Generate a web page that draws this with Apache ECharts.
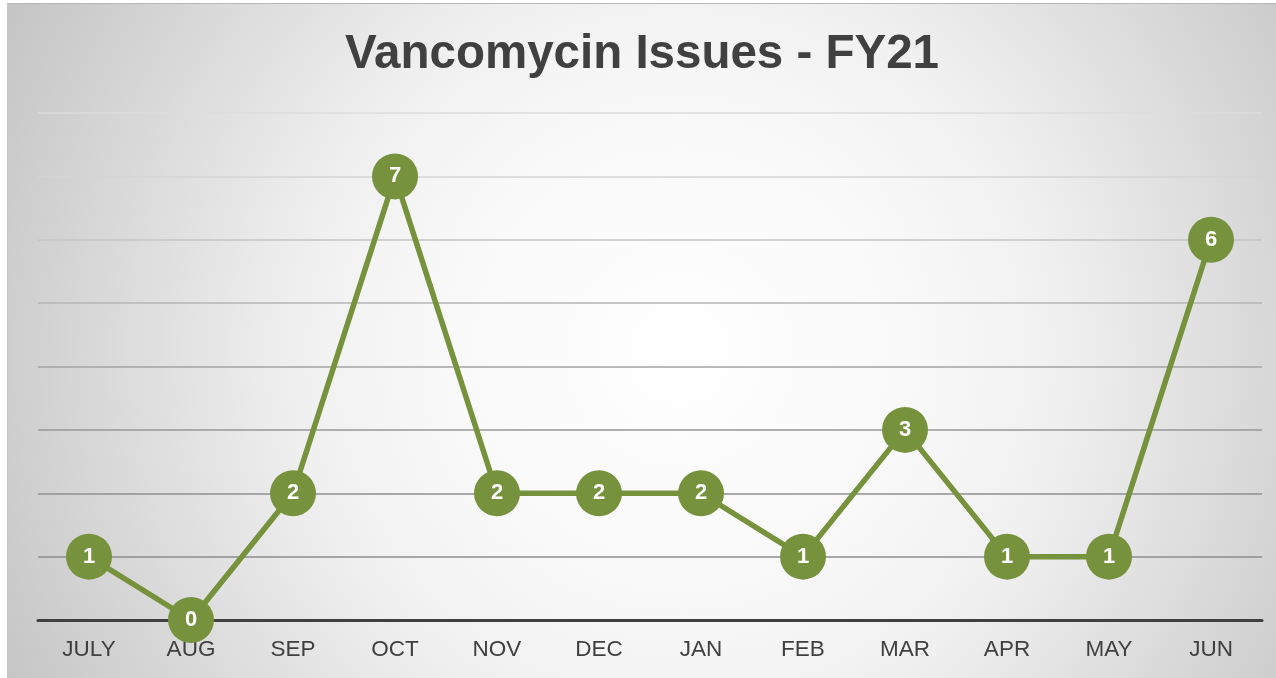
<!DOCTYPE html>
<html><head><meta charset="utf-8">
<script src="https://cdn.jsdelivr.net/npm/echarts@6/dist/echarts.min.js"></script>
<style>
html,body{margin:0;padding:0;background:#fff;width:1276px;height:678px;overflow:hidden;}
#c{position:absolute;left:7px;top:3px;width:1269px;height:675px;border-top:1px solid #b8b8b8;border-left:1px solid #c4c4c4;box-sizing:border-box;
  background:radial-gradient(circle 760px at 53% 52%, #ffffff 0px, #f8f8f8 250px, #f0f0f0 380px, #d2d2d2 640px, #c4c4c4 760px);}
</style></head>
<body><div id="c"></div>
<script>
const titleText = "Vancomycin Issues - FY21";
const months = ["JULY","AUG","SEP","OCT","NOV","DEC","JAN","FEB","MAR","APR","MAY","JUN"];
const issues = [1,0,2,7,2,2,2,1,3,1,1,6];
const yMin = 0, yMax = 8, yStep = 1;

const chart = echarts.init(document.getElementById('c'));
chart.setOption({
  backgroundColor:'transparent',
  animation:false,
  title:{
    text:titleText, left:'center', top:22,
    textStyle:{fontFamily:'Liberation Sans, Arial, sans-serif', fontWeight:'bold', fontSize:47.5, color:'#404040'}
  },
  grid:{left:30, right:14, top:109, bottom:58},
  xAxis:{
    type:'category', data:months, boundaryGap:true,
    axisLine:{lineStyle:{color:'#404040', width:3}},
    axisTick:{show:false},
    axisLabel:{color:'#404040', fontSize:22.5, fontFamily:'Liberation Sans, Arial, sans-serif', margin:18}
  },
  yAxis:{
    type:'value', min:yMin, max:yMax, interval:yStep,
    axisLine:{show:false}, axisTick:{show:false}, axisLabel:{show:false},
    splitLine:{lineStyle:{color:['#404040','#8c8c8c','#8f8f8f','#979797','#a3a3a3','#b4b4b4','#c4c4c4','#d4d4d4','#dcdcdc'], width:1.5}}
  },
  series:[{
    type:'line', data:issues,
    symbol:'circle', symbolSize:46,
    lineStyle:{color:'#76923C', width:5.5},
    itemStyle:{color:'#76923C'},
    label:{show:true, position:'inside', color:'#ffffff', fontSize:22, fontWeight:'bold', fontFamily:'Liberation Sans, Arial, sans-serif'},
    z:5
  }]
});
</script></body></html>
